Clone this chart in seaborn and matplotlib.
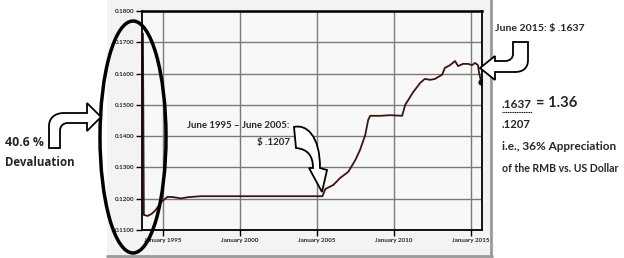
import matplotlib
matplotlib.use("Agg")
import matplotlib.pyplot as plt
import seaborn as sns
import pandas as pd
from matplotlib.patches import Ellipse, PathPatch, Rectangle
from matplotlib.path import Path

# ---------------- data (USD per RMB) ----------------
years = [1993.72, 1993.78, 1994.03, 1994.30, 1994.55, 1994.87, 1995.06, 1995.32,
         1995.71, 1996.17, 1996.68, 1997.46, 1998.5, 1999.5, 2000.5, 2001.5,
         2002.5, 2003.5, 2004.5, 2005.36, 2005.55, 2006.07, 2006.50, 2007.04,
         2007.50, 2007.80, 2008.14, 2008.33, 2008.46, 2009.10, 2009.76, 2010.53,
         2010.73, 2011.25, 2011.70, 2012.00, 2012.35, 2012.67, 2012.86, 2013.12,
         2013.30, 2013.64, 2013.96, 2014.16, 2014.48, 2014.80, 2015.06, 2015.26,
         2015.45, 2015.52, 2015.66]
rate = [0.1728, 0.1148, 0.1145, 0.1152, 0.1164, 0.1187, 0.1196, 0.1206,
        0.1205, 0.1201, 0.1205, 0.1208, 0.1208, 0.1208, 0.1208, 0.1208,
        0.1208, 0.1208, 0.1208, 0.1208, 0.1231, 0.1244, 0.1266, 0.1286,
        0.1324, 0.1356, 0.1404, 0.1452, 0.1465, 0.1465, 0.1467, 0.1465,
        0.1500, 0.1541, 0.1570, 0.1583, 0.1580, 0.1583, 0.1589, 0.1596,
        0.1618, 0.1627, 0.1640, 0.1624, 0.1631, 0.1631, 0.1627, 0.1634,
        0.1627, 0.1602, 0.1573]
xtick_years = [1995, 2000, 2005, 2010, 2015]
xtick_labels = ["January 1995", "January 2000", "January 2005", "January 2010", "January 2015"]
ytick_vals = [0.11, 0.12, 0.13, 0.14, 0.15, 0.16, 0.17, 0.18]

df = pd.DataFrame({"year": years, "rate": rate})

sns.set_style("white")
NARROW = ["Lato", "DejaVu Sans"]
plt.rcParams["font.family"] = NARROW

W, H = 624, 258
fig = plt.figure(figsize=(W / 100, H / 100), dpi=100)
fig.patch.set_facecolor("white")
renderer = fig.canvas.get_renderer()

def text_width(s, family, fs, weight="bold"):
    t = fig.text(0, 0, s, family=family, fontweight=weight, fontsize=fs)
    w = t.get_window_extent(renderer).width
    t.remove()
    return w

def fit_size(s, target_px, family, weight="bold", base=8.0):
    return base * target_px / text_width(s, family, base, weight)

# background (screenshot inset)
bg = fig.add_axes([0, 0, 1, 1], zorder=0)
bg.set_xlim(0, W); bg.set_ylim(H, 0); bg.axis("off")
bg.add_patch(Rectangle((107, -2), 384, 258, facecolor="#f3f3f3", edgecolor="none"))
bg.plot([491, 491], [0, 256], color="#9a9a9a", lw=2)
bg.plot([107, 492], [256, 256], color="#9a9a9a", lw=2)

# main chart
ax = fig.add_axes([142 / W, 1 - 230 / H, 340 / W, 219 / H], zorder=1)
ax.set_facecolor("#f8f8f8")
sns.lineplot(data=df, x="year", y="rate", ax=ax, color="#3d1410", lw=1.3)
ax.plot(df["year"].iloc[-1:], df["rate"].iloc[-1:], "o", color="#2a0d0a", ms=3.5)
ax.set_xlim(1993.66, 2015.71)
ax.set_ylim(0.11, 0.18)
ax.set_xticks(xtick_years)
ax.set_xticklabels(xtick_labels)
ax.set_yticks(ytick_vals)
ax.set_yticklabels([f"{v:.4f}" for v in ytick_vals])
ax.grid(True, color="#7a7a7a", lw=1.0)
ax.set_axisbelow(True)
for s in ax.spines.values():
    s.set_visible(True); s.set_color("black"); s.set_linewidth(1.3)
ax.spines["top"].set_linewidth(1.8)
tick_fs = fit_size("January 1995", 38, NARROW)
ax.tick_params(axis="both", direction="out", length=4, width=1, color="black",
               labelsize=tick_fs, pad=1.5, bottom=True, left=True)
for lab in ax.get_xticklabels() + ax.get_yticklabels():
    lab.set_fontweight("bold")
ax.set_xlabel(""); ax.set_ylabel("")

# overlay annotations
ov = fig.add_axes([0, 0, 1, 1], zorder=3)
ov.set_xlim(0, W); ov.set_ylim(H, 0); ov.axis("off"); ov.patch.set_alpha(0)

ov.add_patch(Ellipse((133, 137), 66, 232, facecolor="none", edgecolor="black", lw=2.5))

def arrow(verts_codes):
    verts = [v for v, c in verts_codes]
    codes = [c for v, c in verts_codes]
    return PathPatch(Path(verts, codes), facecolor="white", edgecolor="black", lw=1.3)

M, L, C, Z = Path.MOVETO, Path.LINETO, Path.CURVE4, Path.CLOSEPOLY
left_arrow = [((49, 148), M), ((49, 126), L), ((49, 118), C), ((55, 113), C), ((64, 113), C),
              ((87, 113), L), ((87, 103), L), ((101, 117), L), ((87, 131), L), ((87, 123), L),
              ((68, 123), L), ((63, 123), C), ((60, 126), C), ((60, 131), C), ((60, 148), L),
              ((49, 148), Z)]
right_arrow = [((513, 42), M), ((528, 42), L), ((528, 60), L), ((528, 68), C), ((523, 72), C),
               ((515, 72), C), ((495, 72), L), ((495, 80), L), ((480, 68), L), ((495, 56), L),
               ((495, 61), L), ((505, 61), L), ((510, 61), C), ((513, 58), C), ((513, 54), C),
               ((513, 42), Z)]
mid_arrow = [((294, 127), M), ((306, 124), C), ((320, 135), C), ((320, 168), C),
             ((327, 170), L), ((322, 192), L), ((309, 168), L), ((313, 168), L),
             ((313, 155), C), ((307, 149), C), ((296, 148), C), ((294, 127), Z)]
for a in (left_arrow, right_arrow, mid_arrow):
    ov.add_patch(arrow(a))

WIDE = ["Open Sans", "DejaVu Sans"]

def put(x, y, s, width_px, family=NARROW):
    fs = fit_size(s, width_px, family)
    ov.text(x, y, s, family=family, fontweight="bold", fontsize=fs, va="center", ha="left")
    return fs

put(5, 143, "40.6 %", 39, WIDE)
put(5, 162, "Devaluation", 70, WIDE)
put(187, 125, "June 1995 \u2013 June 2005:", 103)
put(257, 143, "$ .1207", 33)
put(495, 29, "June 2015: $ .1637", 90)
body_fs = put(502, 147, "i.e., 36% Appreciation", 115)
put(502, 168, "of the RMB vs. US Dollar", 117)

# ratio line: ".1637 = 1.36"
w1 = text_width(".1637", NARROW, body_fs)
ov.text(502, 104, ".1637", family=NARROW, fontweight="bold", fontsize=body_fs, va="center", ha="left")
ov.plot([502, 502 + w1], [111.5, 111.5], color="black", lw=0.8, ls=(0, (1, 0.6)))
ov.text(502 + w1 + 4, 103, "= 1.36", family=NARROW, fontweight="bold", fontsize=body_fs * 1.25,
        va="center", ha="left")
ov.text(502, 125, ".1207", family=NARROW, fontweight="bold", fontsize=body_fs * 0.95,
        va="center", ha="left")

fig.savefig("out.png", dpi=100, facecolor="white")
